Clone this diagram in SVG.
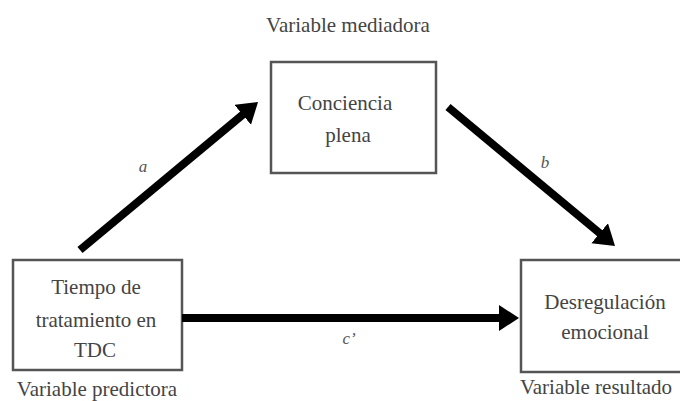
<svg xmlns="http://www.w3.org/2000/svg" width="680" height="401" viewBox="0 0 680 401">
<defs>
<style>
.box{fill:#fff;stroke:#555;stroke-width:2.5}
.t{font-family:"Times New Roman","Liberation Serif","DejaVu Serif",serif;font-size:21px;fill:#444;text-anchor:middle}
.lab{font-family:"Times New Roman","Liberation Serif","DejaVu Serif",serif;font-size:17px;font-style:italic;fill:#555;text-anchor:middle}
.arr{stroke:#000;stroke-width:8;fill:none;marker-end:url(#ah)}
</style>
<marker id="ah" markerUnits="userSpaceOnUse" markerWidth="22" markerHeight="28" refX="8" refY="13" orient="auto">
<path d="M0,0 L20,13 L0,26 z" fill="#000"/>
</marker>
</defs>
<rect width="680" height="401" fill="#fff"/>
<text class="t" x="348" y="32">Variable mediadora</text>
<g id="mediator">
<rect class="box" x="271" y="62" width="165" height="111"/>
<text class="t" x="345" y="110">Conciencia</text>
<text class="t" x="348" y="142">plena</text>
</g>
<g id="predictor">
<rect class="box" x="13" y="260" width="169" height="110"/>
<text class="t" x="96" y="294">Tiempo de</text>
<text class="t" x="96" y="327">tratamiento en</text>
<text class="t" x="95" y="357">TDC</text>
<text class="t" x="97" y="396">Variable predictora</text>
</g>
<g id="outcome">
<rect class="box" x="521" y="260" width="175" height="112"/>
<text class="t" x="605" y="309">Desregulación</text>
<text class="t" x="605" y="339">emocional</text>
<text class="t" x="596" y="394">Variable resultado</text>
</g>
<g id="connectors">
<line class="arr" x1="80" y1="250" x2="248.8" y2="109.7"/>
<line class="arr" x1="448" y1="107" x2="605.8" y2="238.3"/>
<line class="arr" x1="182" y1="318" x2="507" y2="318"/>
<text class="lab" x="143" y="172">a</text>
<text class="lab" x="545" y="168">b</text>
<text class="lab" x="349" y="344">c’</text>
</g>
</svg>
